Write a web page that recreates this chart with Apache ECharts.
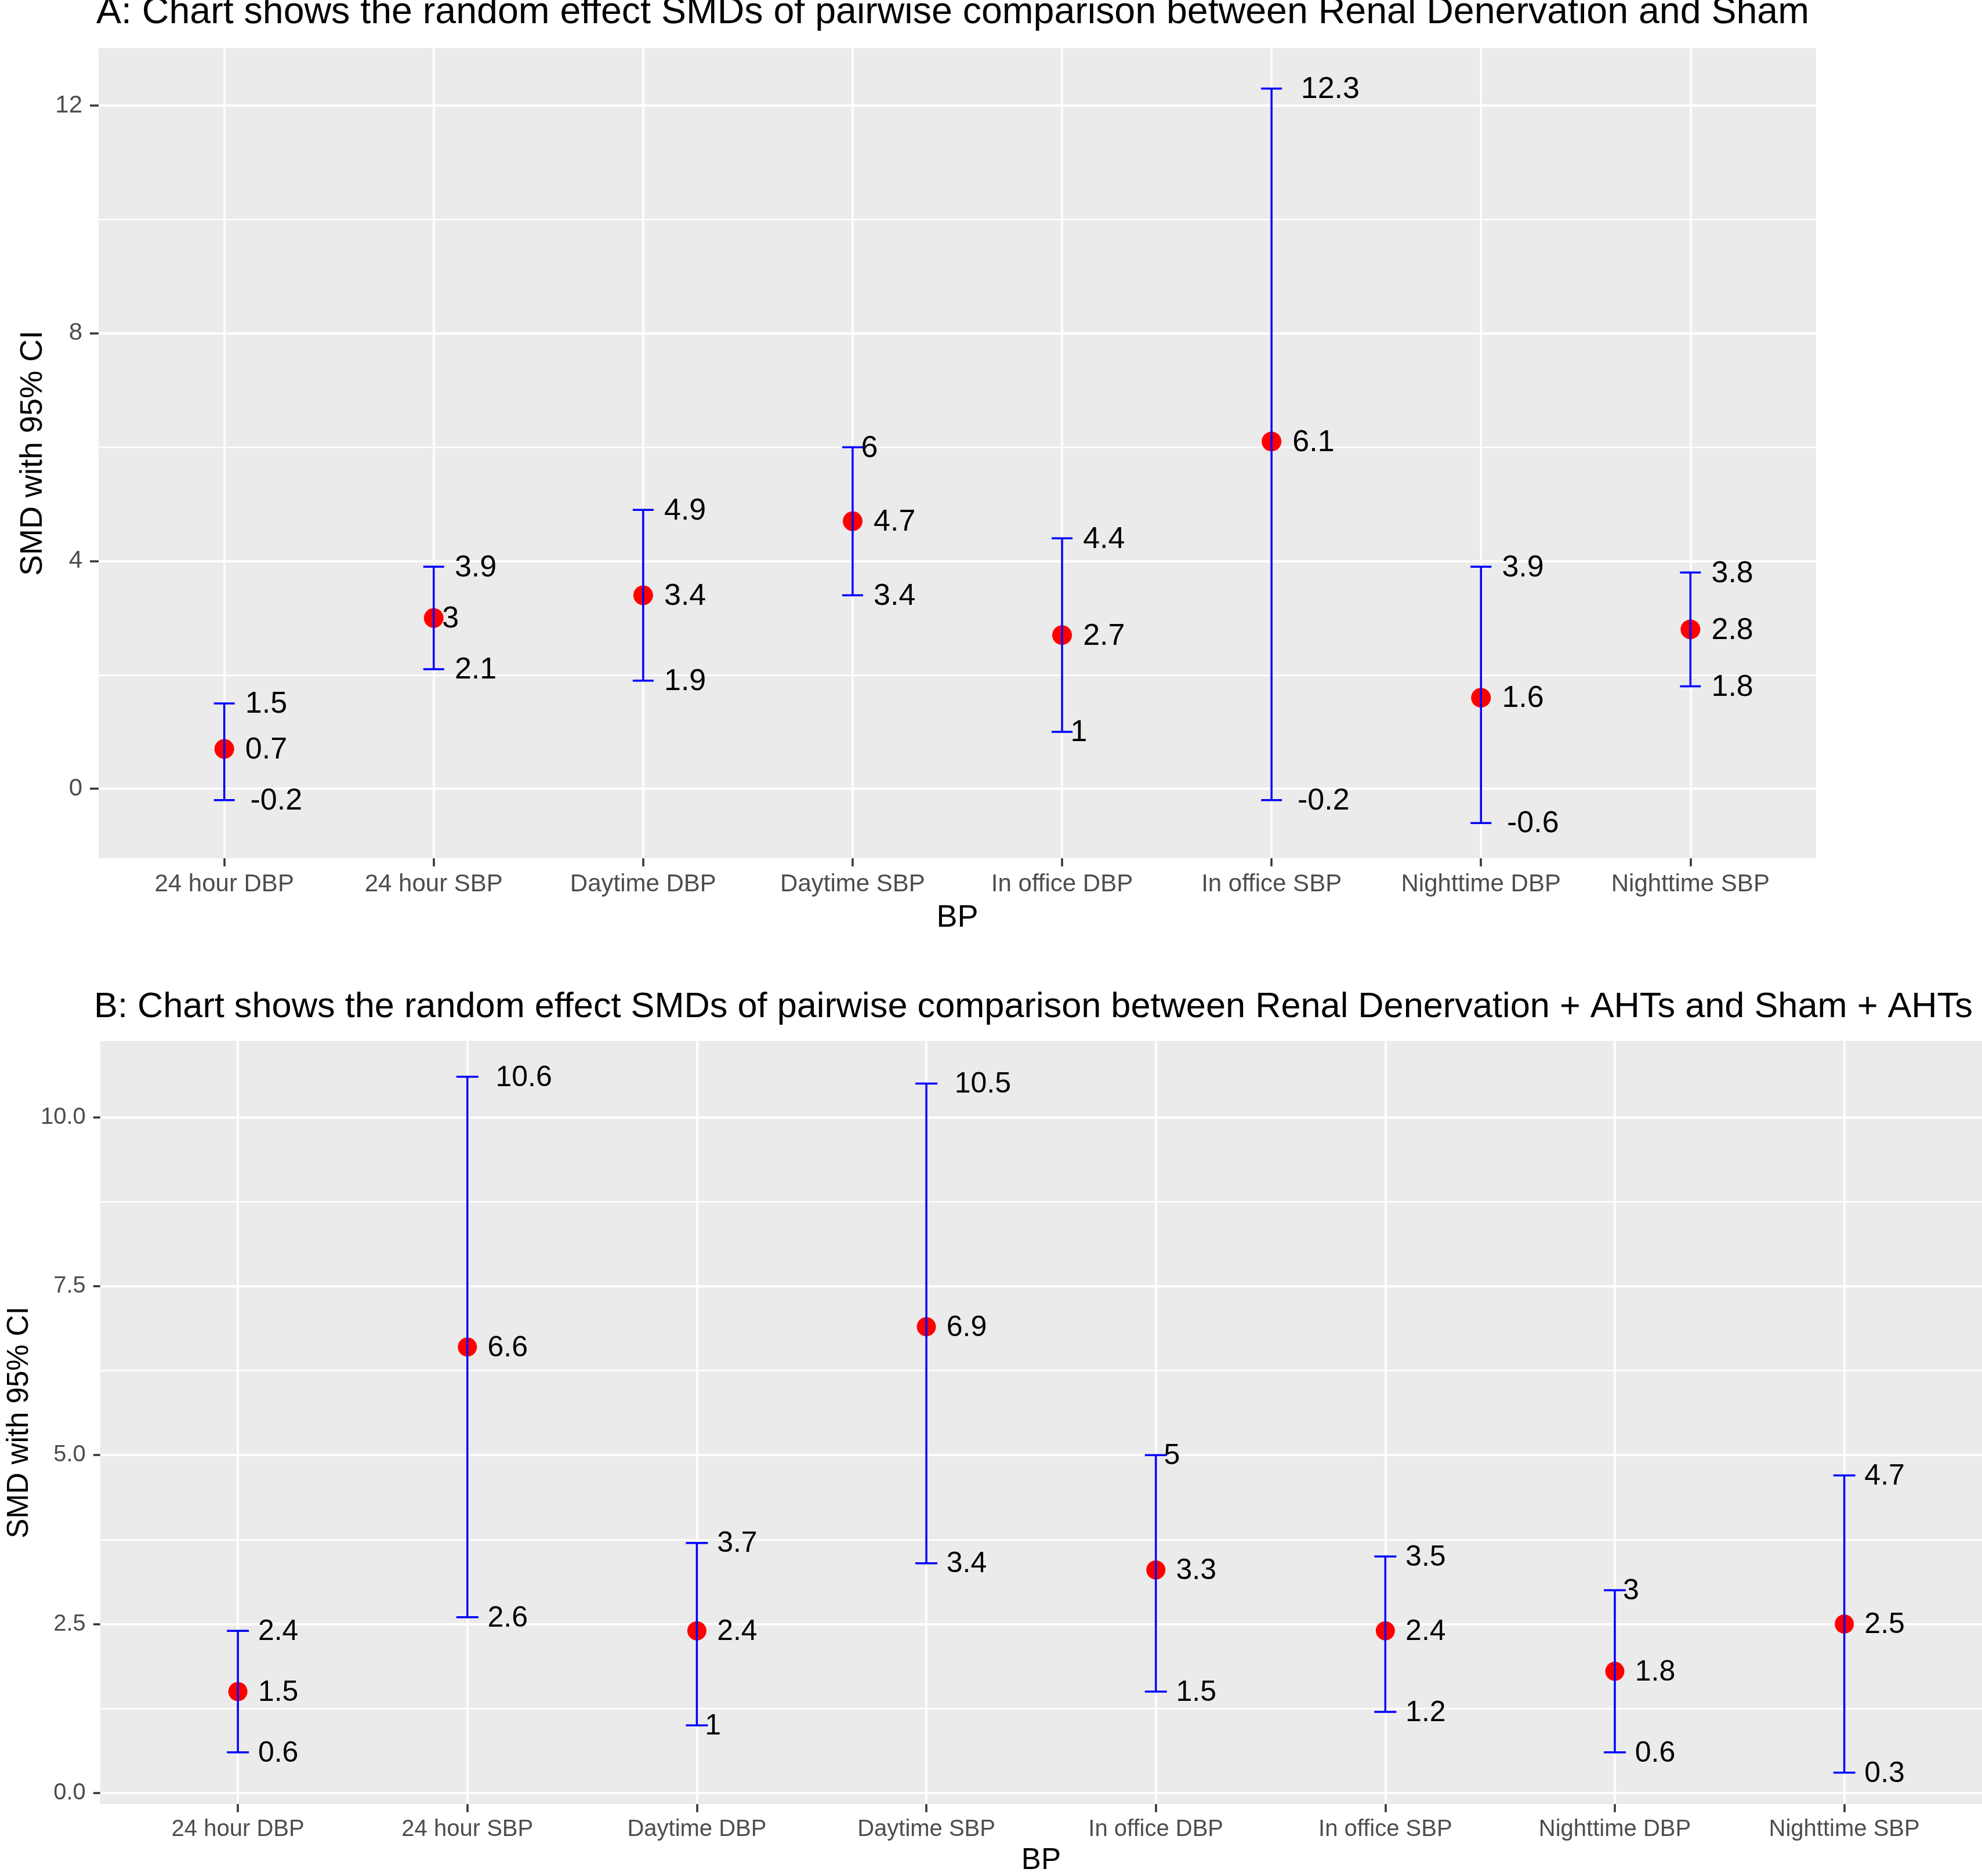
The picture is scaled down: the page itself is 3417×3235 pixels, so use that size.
<!DOCTYPE html>
<html>
<head>
<meta charset="utf-8">
<script src="https://cdn.jsdelivr.net/npm/echarts@6/dist/echarts.min.js"></script>
<style>html,body{margin:0;padding:0;background:#fff}#c{width:3417px;height:3235px}</style>
</head>
<body>
<div id="c"></div>
<script>
// ---------- data ----------
const categories = ['24 hour DBP','24 hour SBP','Daytime DBP','Daytime SBP','In office DBP','In office SBP','Nighttime DBP','Nighttime SBP'];

const titleA = 'A: Chart shows the random effect SMDs of pairwise comparison between Renal Denervation and Sham';
const meanA  = [0.7, 3, 3.4, 4.7, 2.7, 6.1, 1.6, 2.8];
const lowerA = [-0.2, 2.1, 1.9, 3.4, 1, -0.2, -0.6, 1.8];
const upperA = [1.5, 3.9, 4.9, 6, 4.4, 12.3, 3.9, 3.8];
const yTicksA = [0, 4, 8, 12];
const yTickLabelsA = ['0', '4', '8', '12'];
const yMinorA = [2, 6, 10];

const titleB = 'B: Chart shows the random effect SMDs of pairwise comparison between Renal Denervation + AHTs and Sham + AHTs';
const meanB  = [1.5, 6.6, 2.4, 6.9, 3.3, 2.4, 1.8, 2.5];
const lowerB = [0.6, 2.6, 1, 3.4, 1.5, 1.2, 0.6, 0.3];
const upperB = [2.4, 10.6, 3.7, 10.5, 5, 3.5, 3, 4.7];
const yTicksB = [0, 2.5, 5, 7.5, 10];
const yTickLabelsB = ['0.0', '2.5', '5.0', '7.5', '10.0'];
const yMinorB = [1.25, 3.75, 6.25, 8.75];

const xName = 'BP';
const yName = 'SMD with 95% CI';

// ---------- helpers ----------
const FONT = '"Liberation Sans", Arial, Helvetica, sans-serif';
const measureCtx = document.createElement('canvas').getContext('2d');
function textWidth(t, size) {
  measureCtx.font = size + 'px ' + FONT;
  return measureCtx.measureText(t).width;
}
function fmt(v) { return String(v); }

const panels = [
  { title: titleA, mean: meanA, lower: lowerA, upper: upperA, yTicks: yTicksA, yLabels: yTickLabelsA, yMinor: yMinorA,
    grid: { left: 170, top: 83, width: 2961, height: 1397 }, ymin: -1.22, ymax: 13.01,
    titlePos: { left: 166, top: -10 }, titleSize: 64.5, tickSize: 42, axisTitleSize: 54, labelSize: 52,
    xNameGap: 76, yNameGap: 82, yLabelMargin: 28, yTickLen: 15, capW: 36, ptSize: 34 },
  { title: titleB, mean: meanB, lower: lowerB, upper: upperB, yTicks: yTicksB, yLabels: yTickLabelsB, yMinor: yMinorB,
    grid: { left: 163, top: 1795, width: 3254, height: 1320 }, ymin: -0.165, ymax: 11.13,
    titlePos: { left: 162, top: 1707 }, titleSize: 61.3, tickSize: 40, axisTitleSize: 51, labelSize: 50,
    xNameGap: 72, yNameGap: 111, yLabelMargin: 25, yTickLen: 12, capW: 38, ptSize: 33 }
];

const catIdx = categories.map((c, i) => i);

const option = {
  animation: false,
  backgroundColor: '#ffffff',
  title: [], grid: [], xAxis: [], yAxis: [], series: []
};

panels.forEach((p, k) => {
  option.title.push({
    text: p.title, left: p.titlePos.left, top: p.titlePos.top, padding: 0,
    textStyle: { fontFamily: FONT, fontSize: p.titleSize, fontWeight: 'normal', color: '#000000' }
  });
  option.grid.push(Object.assign({ show: true, backgroundColor: '#EBEBEB', borderWidth: 0, containLabel: false }, p.grid));

  option.xAxis.push({
    gridIndex: k, type: 'value', min: -0.6, max: categories.length - 0.4, position: 'bottom',
    name: xName, nameLocation: 'middle', nameGap: p.xNameGap,
    nameTextStyle: { fontFamily: FONT, fontSize: p.axisTitleSize, color: '#000000' },
    axisLine: { show: false, onZero: false },
    axisTick: { show: true, length: 14, customValues: catIdx, lineStyle: { color: '#333333', width: 3.5 } },
    axisLabel: { show: true, customValues: catIdx, margin: 24, fontFamily: FONT, fontSize: p.tickSize, color: '#4D4D4D',
      formatter: v => categories[Math.round(v)] },
    splitLine: { show: true, lineStyle: { color: '#FFFFFF', width: 3.5 } }
  });

  // major y axis
  option.yAxis.push({
    gridIndex: k, type: 'value', min: p.ymin, max: p.ymax, position: 'left',
    name: yName, nameLocation: 'middle', nameGap: p.yNameGap, nameRotate: 90,
    nameTextStyle: { fontFamily: FONT, fontSize: p.axisTitleSize, color: '#000000' },
    axisLine: { show: false, onZero: false },
    axisTick: { show: true, length: p.yTickLen, customValues: p.yTicks, lineStyle: { color: '#333333', width: 3.5 } },
    axisLabel: { show: true, customValues: p.yTicks, margin: p.yLabelMargin, fontFamily: FONT, fontSize: p.tickSize, color: '#4D4D4D',
      formatter: v => { const i = p.yTicks.indexOf(v); return i >= 0 ? p.yLabels[i] : ''; } },
    splitLine: { show: true, lineStyle: { color: '#FFFFFF', width: 4 } }
  });
  // minor y grid
  option.yAxis.push({
    gridIndex: k, type: 'value', min: p.ymin, max: p.ymax, position: 'left',
    axisLine: { show: false, onZero: false },
    axisTick: { show: false, customValues: p.yMinor },
    axisLabel: { show: false, customValues: p.yMinor },
    splitLine: { show: true, lineStyle: { color: '#FFFFFF', width: 2.5 } }
  });

  const yIdx = k * 2;

  // points
  option.series.push({
    type: 'scatter', xAxisIndex: k, yAxisIndex: yIdx, z: 3,
    symbol: 'circle', symbolSize: p.ptSize,
    itemStyle: { color: '#FF0000', opacity: 1 },
    data: p.mean.map((m, i) => [i, m])
  });

  // error bars
  option.series.push({
    type: 'custom', xAxisIndex: k, yAxisIndex: yIdx, z: 4,
    data: p.mean.map((m, i) => [i, p.lower[i], p.upper[i]]),
    renderItem: (params, api) => {
      const x = api.value(0);
      const lo = api.coord([x, api.value(1)]);
      const hi = api.coord([x, api.value(2)]);
      const st = { stroke: '#0000FF', lineWidth: 3.5, fill: null };
      const h = p.capW / 2;
      return { type: 'group', children: [
        { type: 'line', shape: { x1: lo[0], y1: lo[1], x2: hi[0], y2: hi[1] }, style: st },
        { type: 'line', shape: { x1: hi[0] - h, y1: hi[1], x2: hi[0] + h, y2: hi[1] }, style: st },
        { type: 'line', shape: { x1: lo[0] - h, y1: lo[1], x2: lo[0] + h, y2: lo[1] }, style: st }
      ] };
    }
  });

  // value labels (mean, lower, upper)
  const labelData = [];
  const labelText = [];
  p.mean.forEach((m, i) => {
    labelData.push([i, m]); labelText.push(fmt(m));
    labelData.push([i, p.lower[i]]); labelText.push(fmt(p.lower[i]));
    labelData.push([i, p.upper[i]]); labelText.push(fmt(p.upper[i]));
  });
  option.series.push({
    type: 'custom', xAxisIndex: k, yAxisIndex: yIdx, z: 5, clip: false,
    data: labelData,
    renderItem: (params, api) => {
      const pt = api.coord([api.value(0), api.value(1)]);
      const t = labelText[params.dataIndex];
      const w = textWidth(t, p.labelSize);
      return {
        type: 'text', x: pt[0] + 0.5 * w, y: pt[1] + 2,
        style: { text: t, fontFamily: FONT, fontSize: p.labelSize, fill: '#000000',
          align: 'left', verticalAlign: 'middle', textAlign: 'left', textVerticalAlign: 'middle' }
      };
    }
  });
});

const chart = echarts.init(document.getElementById('c'), null, { renderer: 'canvas' });
chart.setOption(option);
</script>
</body>
</html>
